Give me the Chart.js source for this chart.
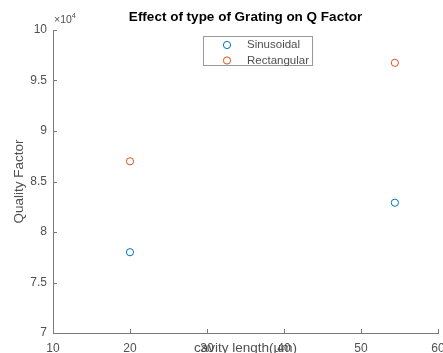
<!DOCTYPE html>
<html lang="en">
<head>
    <meta charset="UTF-8">
    <script src="https://cdn.jsdelivr.net/npm/chart.js"></script>
    <title>Effect of type of Grating on Q Factor</title>
    <style>
        html, body {
            margin: 0;
            padding: 0;
            background: #fff;
        }
        #wrap {
            width: 443px;
            height: 353px;
        }
    </style>
</head>
<body>
    <div id="wrap"><canvas id="qChart"></canvas></div>

    <script>
        // Datos
        const cavityLength = [20, 54.4];
        const sinusoidalQ = [78000, 82900];
        const rectangularQ = [87000, 96750];
        const seriesNames = ['Sinusoidal', 'Rectangular'];
        const xTicks = [10, 20, 30, 40, 50, 60];
        const yTicks = [70000, 75000, 80000, 85000, 90000, 95000, 100000];

        const blue = '#0072BD';
        const orange = '#D95319';
        const axisColor = '#7a7a7a';
        const textColor = '#505050';
        const fontFamily = '"Liberation Sans", Arial, Helvetica, sans-serif';

        function toPoints(xs, ys) {
            return xs.map((x, i) => ({ x: x, y: ys[i] }));
        }

        // Titulos, leyenda y ticks hacia dentro al estilo MATLAB
        const matlabLook = {
            id: 'matlabLook',
            afterDraw(chart) {
                const ctx = chart.ctx;
                const xs = chart.scales.x;
                const ys = chart.scales.y;
                const area = chart.chartArea;

                ctx.save();
                ctx.strokeStyle = axisColor;
                ctx.lineWidth = 1;
                ctx.beginPath();
                xTicks.forEach(v => {
                    const px = Math.round(xs.getPixelForValue(v)) + 0.5;
                    ctx.moveTo(px, area.bottom);
                    ctx.lineTo(px, area.bottom - 4);
                });
                yTicks.forEach(v => {
                    const py = Math.round(ys.getPixelForValue(v)) + 0.5;
                    ctx.moveTo(area.left, py);
                    ctx.lineTo(area.left + 4, py);
                });
                ctx.stroke();

                // titulo
                const cx = (area.left + area.right) / 2;
                ctx.fillStyle = '#000';
                ctx.font = 'bold 13.5px ' + fontFamily;
                ctx.textAlign = 'center';
                ctx.textBaseline = 'middle';
                ctx.fillText('Effect of type of Grating on Q Factor', cx, 17);

                // exponente
                ctx.fillStyle = textColor;
                ctx.textAlign = 'left';
                ctx.textBaseline = 'alphabetic';
                ctx.font = '10.5px ' + fontFamily;
                ctx.fillText('\u00d710', area.left + 1, 23);
                const w = ctx.measureText('\u00d710').width;
                ctx.font = '7.5px ' + fontFamily;
                ctx.fillText('4', area.left + 1 + w, 18);

                // titulos de ejes
                ctx.font = '13.5px ' + fontFamily;
                ctx.textAlign = 'center';
                ctx.textBaseline = 'middle';
                ctx.fillText('cavity length(\u00b5m)', cx, 348);
                ctx.save();
                ctx.translate(19, (area.top + area.bottom) / 2);
                ctx.rotate(-Math.PI / 2);
                ctx.fillText('Quality Factor', 0, 0);
                ctx.restore();

                // leyenda
                const lx = 203.5, ly = 36.5, lw = 109, lh = 29;
                ctx.fillStyle = '#fff';
                ctx.fillRect(lx, ly, lw, lh);
                ctx.strokeStyle = '#9a9a9a';
                ctx.strokeRect(lx, ly, lw, lh);
                const colors = [blue, orange];
                seriesNames.forEach((name, i) => {
                    const yy = 45 + i * 15.5;
                    ctx.beginPath();
                    ctx.strokeStyle = colors[i];
                    ctx.arc(227, yy, 3.6, 0, Math.PI * 2);
                    ctx.stroke();
                    ctx.fillStyle = textColor;
                    ctx.font = '11.5px ' + fontFamily;
                    ctx.textAlign = 'left';
                    ctx.textBaseline = 'middle';
                    ctx.fillText(name, 247, yy);
                });
                ctx.restore();
            }
        };

        const ctx = document.getElementById('qChart');
        new Chart(ctx, {
            type: 'scatter',
            data: {
                datasets: [{
                    label: seriesNames[0],
                    data: toPoints(cavityLength, sinusoidalQ),
                    borderColor: blue,
                    backgroundColor: 'rgba(0,0,0,0)',
                    borderWidth: 1,
                    pointRadius: 3.6
                }, {
                    label: seriesNames[1],
                    data: toPoints(cavityLength, rectangularQ),
                    borderColor: orange,
                    backgroundColor: 'rgba(0,0,0,0)',
                    borderWidth: 1,
                    pointRadius: 3.6
                }]
            },
            options: {
                responsive: true,
                maintainAspectRatio: false,
                animation: false,
                layout: {
                    padding: { top: 30, right: 4, left: 0, bottom: 0 }
                },
                plugins: {
                    legend: { display: false },
                    tooltip: { enabled: false }
                },
                scales: {
                    x: {
                        type: 'linear',
                        min: 10,
                        max: 60,
                        afterFit(scale) {
                            scale.height = 20;
                            scale.paddingLeft = 0;
                            scale.paddingRight = 0;
                        },
                        afterBuildTicks(scale) { scale.ticks = xTicks.map(v => ({ value: v })); },
                        grid: { display: false, drawTicks: false },
                        border: { display: true, color: axisColor, width: 1 },
                        ticks: {
                            padding: 8,
                            maxRotation: 0,
                            autoSkip: false,
                            color: textColor,
                            font: { family: fontFamily, size: 12 }
                        }
                    },
                    y: {
                        type: 'linear',
                        min: 70000,
                        max: 100000,
                        afterFit(scale) {
                            scale.width = 53;
                            scale.paddingTop = 0;
                            scale.paddingBottom = 0;
                        },
                        afterBuildTicks(scale) { scale.ticks = yTicks.map(v => ({ value: v })); },
                        grid: { display: false, drawTicks: false },
                        border: { display: true, color: axisColor, width: 1 },
                        ticks: {
                            padding: 6,
                            autoSkip: false,
                            color: textColor,
                            font: { family: fontFamily, size: 12 },
                            callback: value => String(value / 10000)
                        }
                    }
                }
            },
            plugins: [matlabLook]
        });
    </script>
</body>
</html>
